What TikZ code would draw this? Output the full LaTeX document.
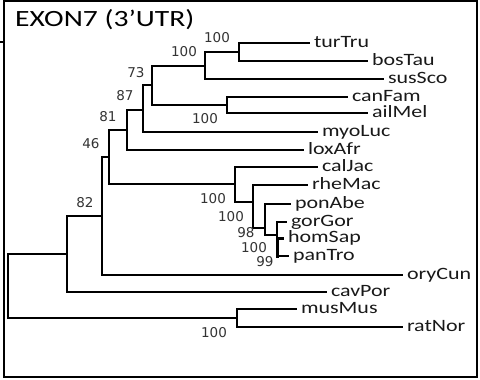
\documentclass[tikz,border=0pt]{standalone}
\usepackage{fontspec}
\newfontfamily\titlefont[FakeStretch=1.27]{Carlito}
\newfontfamily\leaffont[FakeStretch=1.27]{Carlito}
\newfontfamily\numfont{DejaVu Sans}
\begin{document}
\begin{tikzpicture}[x=1pt,y=-1pt,
  br/.style={line width=1.2pt},
  leaf/.style={anchor=west, inner xsep=4pt, inner ysep=0pt, outer sep=0pt, text height=8pt, text depth=0pt,
    font=\leaffont\fontsize{17.3}{17}\selectfont, text=black!90},
  boot/.style={inner sep=0pt, font=\numfont\fontsize{13.5}{14}\selectfont, text=black!80}]
\useasboundingbox (0,0) rectangle (480,380);
\fill[white] (0,0) rectangle (480,380);
% frame
\draw[line width=1.5pt] (4,1) rectangle (477,377);
\coordinate (tickL) at (0,42);
\coordinate (tickR) at (4,42);
\draw[line width=1.2pt] (tickL) -- (tickR);
% title
\node[anchor=base west, inner sep=0pt, font=\titlefont\fontsize{23.3}{24}\selectfont] (title) at (15,27) {EXON7 (3’UTR)};
% leaves
\node[leaf] (turTru) at (310,43) {turTru};
\node[leaf] (bosTau) at (368,61) {bosTau};
\node[leaf] (susSco) at (384,79) {susSco};
\node[leaf] (canFam) at (348,97) {canFam};
\node[leaf] (ailMel) at (368,113) {ailMel};
\node[leaf] (myoLuc) at (318,132) {myoLuc};
\node[leaf] (loxAfr) at (304,150) {loxAfr};
\node[leaf] (calJac) at (318,167) {calJac};
\node[leaf] (rheMac) at (308,185) {rheMac};
\node[leaf] (ponAbe) at (291,204) {ponAbe};
\node[leaf] (gorGor) at (287,222) {gorGor};
\node[leaf] (homSap) at (284,238) {homSap};
\node[leaf] (panTro) at (289,256) {panTro};
\node[leaf] (oryCun) at (403,275) {oryCun};
\node[leaf] (cavPor) at (327,292) {cavPor};
\node[leaf] (musMus) at (297,309) {musMus};
\node[leaf] (ratNor) at (403,327) {ratNor};
% internal nodes
\coordinate (A) at (239,52);
\coordinate (B) at (205,66);
\coordinate (C) at (152,85);
\coordinate (D) at (227,105);
\coordinate (E) at (143,110);
\coordinate (F) at (127,130);
\coordinate (G) at (109,157);
\coordinate (H) at (235,184);
\coordinate (I) at (253,202);
\coordinate (J) at (265,228);
\coordinate (K) at (277,235);
\coordinate (L) at (277,247);
\coordinate (M) at (102,216);
\coordinate (N) at (67,254);
\coordinate (O) at (237,318);
\coordinate (R) at (8,286);
% branches
\draw[br] (A) |- (turTru.west);
\draw[br] (A) |- (bosTau.west);
\draw[br] (B) |- (A);
\draw[br] (B) |- (susSco.west);
\draw[br] (D) |- (canFam.west);
\draw[br] (D) |- (ailMel.west);
\draw[br] (C) |- (B);
\draw[br] (C) |- (D);
\draw[br] (E) |- (C);
\draw[br] (E) |- (myoLuc.west);
\draw[br] (F) |- (E);
\draw[br] (F) |- (loxAfr.west);
\draw[br] (G) |- (F);
\draw[br] (G) |- (H);
\draw[br] (H) |- (calJac.west);
\draw[br] (H) |- (I);
\draw[br] (I) |- (rheMac.west);
\draw[br] (I) |- (J);
\draw[br] (J) |- (ponAbe.west);
\draw[br] (J) |- (K);
\draw[br] (K) |- (gorGor.west);
\draw[br] (K) |- (L);
\draw[line width=3pt] (L) |- (homSap.west);
\draw[line width=3pt] (L) |- ([xshift=-10pt]panTro.west);
\draw[br] ([xshift=-11pt]panTro.west) -- (panTro.west);
\draw[br] (M) |- (G);
\draw[br] (M) |- (oryCun.west);
\draw[br] (N) |- (M);
\draw[br] (N) |- (cavPor.west);
\draw[br] (O) |- (musMus.west);
\draw[br] (O) |- (ratNor.west);
\draw[br] (R) |- (N);
\draw[br] (R) |- (O);
% bootstrap values
\node[boot] (bA) at (217,38) {100};
\node[boot] (bB) at (184,52) {100};
\node[boot] (bC) at (136,73) {73};
\node[boot] (bE) at (125,96) {87};
\node[boot] (bF) at (108,117) {81};
\node[boot] (bG) at (91,144) {46};
\node[boot] (bD) at (205,119) {100};
\node[boot] (bM) at (85,203) {82};
\node[boot] (bH) at (213,199) {100};
\node[boot] (bI) at (231,217) {100};
\node[boot] (bJ) at (246,233) {98};
\node[boot] (bK) at (254,248) {100};
\node[boot] (bL) at (265,262) {99};
\node[boot] (bO) at (214,333) {100};
\end{tikzpicture}
\end{document}
